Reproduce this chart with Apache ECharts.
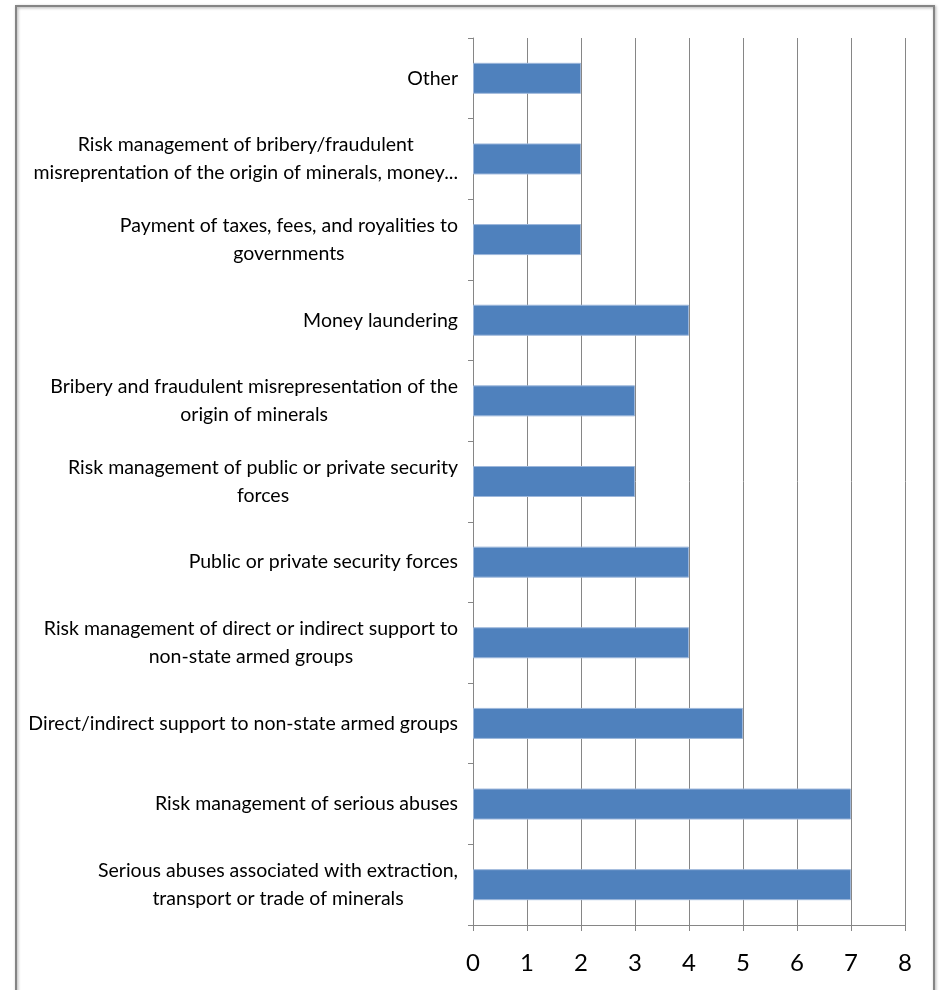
<!DOCTYPE html>
<html>
<head>
<meta charset="utf-8">
<script src="https://cdn.jsdelivr.net/npm/echarts@6/dist/echarts.min.js"></script>
<style>
html,body{margin:0;padding:0;background:#fff;}
#chart{width:941px;height:990px;}
</style>
</head>
<body>
<div id="chart"></div>
<script>
const categories = [
  "Serious abuses associated with extraction,\ntransport or trade of minerals",
  "Risk management of serious abuses",
  "Direct/indirect support to non-state armed groups",
  "Risk management of direct or indirect support to\nnon-state armed groups",
  "Public or private security forces",
  "Risk management of public or private security\nforces",
  "Bribery and fraudulent misrepresentation of the\norigin of minerals",
  "Money laundering",
  "Payment of taxes, fees, and royalities to\ngovernments",
  "Risk management of bribery/fraudulent\nmisreprentation of the origin of minerals, money...",
  "Other"
];
const values = [7, 7, 5, 4, 4, 3, 3, 4, 2, 2, 2];
const xTicks = [0, 1, 2, 3, 4, 5, 6, 7, 8];

const FONT = 'Lato, "Liberation Sans", sans-serif';
const chart = echarts.init(document.getElementById('chart'), null, {renderer: 'canvas'});
chart.setOption({
  animation: false,
  backgroundColor: '#fff',
  graphic: [{
    type: 'rect',
    shape: {x: 16, y: 6, width: 918, height: 1000},
    style: {fill: 'none', stroke: '#858585', lineWidth: 2, shadowBlur: 3, shadowColor: 'rgba(0,0,0,0.35)', shadowOffsetX: 1, shadowOffsetY: 1},
    silent: true
  }],
  grid: {left: 473, right: 36, top: 38, bottom: 65, containLabel: false, outerBoundsMode: 'none'},
  xAxis: {
    type: 'value',
    min: xTicks[0],
    max: xTicks[xTicks.length - 1],
    interval: 1,
    axisLine: {show: true, lineStyle: {color: '#868686', width: 1}},
    axisTick: {show: true, length: 6, lineStyle: {color: '#868686'}},
    splitLine: {show: true, lineStyle: {color: '#868686', width: 1}},
    axisLabel: {
      margin: 26, color: '#000', fontSize: 24, fontFamily: FONT,
      formatter: v => String(v)
    }
  },
  yAxis: {
    type: 'category',
    data: categories,
    axisLine: {show: true, lineStyle: {color: '#868686', width: 1}},
    axisTick: {show: true, length: 5, lineStyle: {color: '#868686'}},
    splitLine: {show: false},
    axisLabel: {
      margin: 15,
      color: '#000',
      fontSize: 19.5,
      fontFamily: FONT,
      lineHeight: 28,
      formatter: v => v.split('\n').map(s => '{c|' + s + '}').join('\n'),
      rich: {c: {align: 'center', fontSize: 19.5, fontFamily: FONT, lineHeight: 28, color: '#000'}}
    }
  },
  series: [{
    type: 'bar',
    data: values,
    barWidth: 31,
    itemStyle: {color: '#4F81BD', borderColor: '#9DB7DB', borderWidth: 1}
  }]
});
</script>
</body>
</html>
